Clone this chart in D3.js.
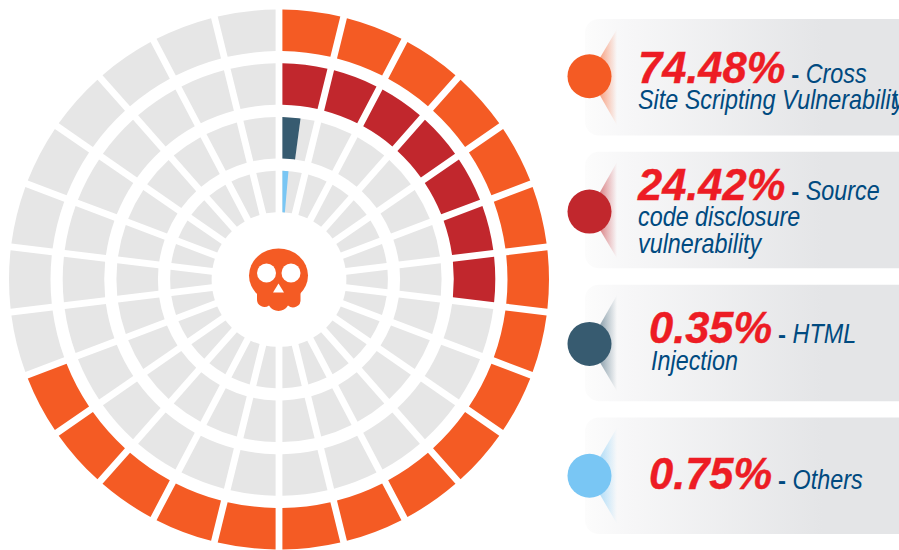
<!DOCTYPE html>
<html><head><meta charset="utf-8">
<script src="https://cdn.jsdelivr.net/npm/d3@7/dist/d3.min.js"></script>
<style>html,body{margin:0;padding:0;background:#fff;overflow:hidden}svg{display:block}</style>
</head><body><svg id="c" width="899" height="550"></svg>
<script>
const rings = ["Cross Site Scripting", "Source code disclosure", "HTML Injection", "Others"];
const filledCells = [18, 7, 0.55, 0.36];
const percents = ["74.48%", "24.42%", "0.35%", "0.75%"];
const firstLines = ["Cross", "Source", "HTML", "Others"];
const moreLines = [["Site Scripting Vulnerabilit", "y"], ["code disclosure", "vulnerability"], ["Injection"], []];
const colors = ["#f45b24", "#c1272d", "#375b70", "#79c6f4"];
const cellCount = 26;

const svg = d3.select("#c"), defs = svg.append("defs");
const cx = 279, cy = 279.5;
const g = svg.append("g").attr("transform", `translate(${cx},${cy})`);
const angle = d3.scaleLinear().domain([0, cellCount]).range([0, 2 * Math.PI]);
const radius = d3.scaleBand().domain(rings).range([270, 67.4]).paddingInner(0.227);
const cells = d3.range(cellCount);
const arcGen = d3.arc().padRadius(100).padAngle(0.068);
const cellPath = (ring, i) => arcGen({
  innerRadius: radius(ring), outerRadius: radius(ring) + radius.bandwidth(),
  startAngle: angle(i), endAngle: angle(i + 1)
});

rings.forEach((ring, r) => {
  const filled = filledCells[r];
  const whole = Math.floor(filled), part = filled - whole;
  g.append("g").selectAll("path").data(cells).join("path")
    .attr("d", i => cellPath(ring, i))
    .attr("fill", i => i < whole ? colors[r] : "#e6e6e6");
  if (part > 0) {
    const id = "part" + r;
    defs.append("clipPath").attr("id", id).append("path")
      .attr("d", d3.arc()({innerRadius: 0, outerRadius: 300, startAngle: angle(whole), endAngle: angle(whole + part)}));
    g.append("path").attr("d", cellPath(ring, whole)).attr("fill", colors[r]).attr("clip-path", `url(#${id})`);
  }
});

// skull icon
const skull = svg.append("g");
const orange = colors[0];
skull.append("ellipse").attr("cx", 278.500).attr("cy", 275.500).attr("rx", 29.500).attr("ry", 27).attr("fill", orange);
skull.append("path").attr("fill", orange)
  .attr("d", "M257 285V299A7.500 7.500 0 0 0 269 305.500A11 11 0 0 0 288 305.500A7.500 7.500 0 0 0 300.500 299V285Z");
[266.500, 291].forEach(x => skull.append("circle").attr("cx", x).attr("cy", 273).attr("r", 9.500).attr("fill", "#fff"));
skull.append("path").attr("fill", "#fff").attr("d", "M278.500 283.500L284 292.500H273Z");

// legend cards
const cardBand = d3.scaleBand().domain(rings).range([19, 534]).paddingInner(0.123);
const bg = defs.append("linearGradient").attr("id", "cardBg");
bg.append("stop").attr("offset", 0).attr("stop-color", "#fcfcfc");
bg.append("stop").attr("offset", 0.12).attr("stop-color", "#f7f7f8");
bg.append("stop").attr("offset", 0.7).attr("stop-color", "#e4e5e7");
const textX = [638, 638, 649, 649];
const baseY = [83, 200, 343, 489];
const lineYs = [[109], [226, 253], [370], []];
const circleShift = [0, 2.500, 2, 1];
const labelFont = "'Liberation Sans',sans-serif";
const squeeze = 0.865;

function label(parent, x, y, s, size) {
  return parent.append("text").attr("transform", `translate(${x},${y}) scale(${squeeze},1)`)
    .attr("font-family", labelFont).attr("font-style", "italic").attr("font-size", size || 27)
    .attr("fill", "#004a80").text(s);
}

rings.forEach((ring, r) => {
  const y0 = cardBand(ring), h = cardBand.bandwidth(), ym = y0 + h / 2 - 1 + circleShift[r];
  const card = svg.append("g");
  card.append("rect").attr("x", 585).attr("y", y0).attr("width", 340).attr("height", h).attr("rx", 14).attr("fill", "url(#cardBg)");
  const gid = "tri" + r;
  const lg = defs.append("linearGradient").attr("id", gid).attr("gradientUnits", "userSpaceOnUse")
    .attr("x1", 592).attr("x2", 617).attr("y1", 0).attr("y2", 0);
  lg.append("stop").attr("offset", 0).attr("stop-color", colors[r]).attr("stop-opacity", 0.8);
  lg.append("stop").attr("offset", 1).attr("stop-color", colors[r]).attr("stop-opacity", 0);
  card.append("path").attr("fill", `url(#${gid})`)
    .attr("d", `M589 ${ym}L620 ${y0 + 5}V${y0 + h - 5}Z`);
  card.append("circle").attr("cx", 589.500).attr("cy", ym).attr("r", 22).attr("fill", colors[r]);

  const pct = card.append("text").attr("transform", `translate(${textX[r]},${baseY[r]}) scale(0.965,1)`)
    .attr("font-family", "'Liberation Sans',Arial,sans-serif").attr("font-weight", 700).attr("font-style", "italic")
    .attr("font-size", 45).attr("fill", "#ed1c24").attr("stroke", "#ed1c24").attr("stroke-width", 0.4).text(percents[r]);
  const endX = textX[r] + pct.node().getComputedTextLength() * 0.965;
  card.append("text").attr("x", endX + 6).attr("y", baseY[r]).attr("font-family", labelFont).attr("font-weight", 700)
    .attr("font-size", 24).attr("fill", "#004a80").text("-");
  label(card, endX + 20.5, baseY[r], firstLines[r]);

  const lines = moreLines[r];
  if (r === 0) {
    const l = label(card, textX[r], lineYs[r][0], "");
    l.append("tspan").text(lines[0]);
    l.append("tspan").text(lines[1]).attr("dx", -5);
  } else {
    lines.forEach((s, i) => label(card, textX[r] + (r === 2 ? 2 : 0), lineYs[r][i], s));
  }
});
</script></body></html>
